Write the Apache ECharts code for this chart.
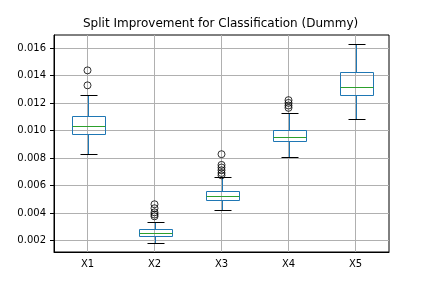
<!DOCTYPE html>
<html><head><meta charset="utf-8">
<script src="https://cdn.jsdelivr.net/npm/echarts@6/dist/echarts.min.js"></script>
<style>html,body{margin:0;padding:0;background:#fff}#c{width:432px;height:288px}</style>
</head><body><div id="c"></div>
<script>
const categories = ['X1', 'X2', 'X3', 'X4', 'X5'];
const whiskerLow  = [0.00833, 0.00183, 0.00424, 0.00804, 0.01088];
const q1          = [0.00974, 0.00234, 0.00494, 0.00921, 0.01256];
const median      = [0.01030, 0.00256, 0.00526, 0.00950, 0.01315];
const q3          = [0.01103, 0.00285, 0.00563, 0.01008, 0.01429];
const whiskerHigh = [0.01257, 0.00337, 0.00665, 0.01125, 0.01629];
const outliers = {
  X1: [0.01439, 0.01330],
  X2: [0.00463, 0.00434, 0.00404, 0.00388, 0.00375],
  X3: [0.00828, 0.00750, 0.00731, 0.00711, 0.00691, 0.00674],
  X4: [0.01222, 0.01202, 0.01183, 0.01166],
  X5: []
};
const yMin = 0.00115, yMax = 0.01697;

const boxData = categories.map((c, i) => [i, whiskerLow[i], q1[i], median[i], q3[i], whiskerHigh[i]]);
const outlierData = [];
categories.forEach((c, i) => outliers[c].forEach(v => outlierData.push([i, v])));

const FONT = 'DejaVu Sans';
const chart = echarts.init(document.getElementById('c'), null, {renderer: 'canvas'});
const h = v => Math.round(v) + 0.5;

chart.setOption({
  animation: false,
  backgroundColor: '#fff',
  title: {
    text: 'Split Improvement for Classification (Dummy)',
    left: 83, top: 18, padding: 0,
    textStyle: {fontFamily: FONT, fontSize: 12, fontWeight: 'normal', color: '#000'}
  },
  grid: {left: 54, right: 43, top: 35, bottom: 36, show: true, borderColor: '#000', borderWidth: 1, backgroundColor: 'transparent'},
  xAxis: {
    type: 'category', data: categories, boundaryGap: true,
    axisLine: {lineStyle: {color: '#000', width: 1}},
    axisTick: {alignWithLabel: true, length: 4, lineStyle: {color: '#000'}},
    axisLabel: {fontFamily: FONT, fontSize: 10, color: '#000', margin: 7},
    splitLine: {show: true, alignWithLabel: true, lineStyle: {color: '#b0b0b0', width: 1}}
  },
  yAxis: {
    type: 'value', min: yMin, max: yMax, splitNumber: 8,
    axisLine: {show: true, lineStyle: {color: '#000', width: 1}},
    axisTick: {show: true, length: 4, lineStyle: {color: '#000'}},
    axisLabel: {fontFamily: FONT, fontSize: 10, color: '#000', margin: 8, showMinLabel: false, showMaxLabel: false,
      formatter: v => v.toFixed(3)},
    splitLine: {show: true, showMinLine: false, showMaxLine: false, lineStyle: {color: '#b0b0b0', width: 1}}
  },
  series: [
    {
      type: 'custom',
      data: boxData,
      encode: {x: 0, y: [1, 2, 3, 4, 5]},
      renderItem: function (params, api) {
        const x = api.value(0);
        const bw = api.size([1, 0])[0];
        const cx = h(api.coord([x, 0])[0]);
        const yl = h(api.coord([x, api.value(1)])[1]);
        const y1 = h(api.coord([x, api.value(2)])[1]);
        const ym = h(api.coord([x, api.value(3)])[1]);
        const y3 = h(api.coord([x, api.value(4)])[1]);
        const yh = h(api.coord([x, api.value(5)])[1]);
        const half = bw * 0.25, cap = bw * 0.125;
        const bx0 = h(cx - half), bx1 = h(cx + half);
        const blue = '#1f77b4';
        const st = (c) => ({stroke: c, lineWidth: 1, fill: null});
        return {
          type: 'group',
          children: [
            {type: 'line', shape: {x1: cx, y1: yl, x2: cx, y2: y1}, style: st(blue)},
            {type: 'line', shape: {x1: cx, y1: y3, x2: cx, y2: yh}, style: st(blue)},
            {type: 'polygon', shape: {points: [[bx0, y1], [bx1, y1], [bx1, y3], [bx0, y3]]}, style: st(blue)},
            {type: 'line', shape: {x1: bx0, y1: ym, x2: bx1, y2: ym}, style: st('#2ca02c')},
            {type: 'line', shape: {x1: h(cx - cap), y1: yl, x2: h(cx + cap), y2: yl}, style: st('#000')},
            {type: 'line', shape: {x1: h(cx - cap), y1: yh, x2: h(cx + cap), y2: yh}, style: st('#000')}
          ]
        };
      }
    },
    {
      type: 'scatter',
      data: outlierData,
      symbol: 'circle', symbolSize: 7,
      itemStyle: {color: 'rgba(0,0,0,0)', borderColor: '#000', borderWidth: 1},
      z: 3
    }
  ]
});
</script></body></html>
